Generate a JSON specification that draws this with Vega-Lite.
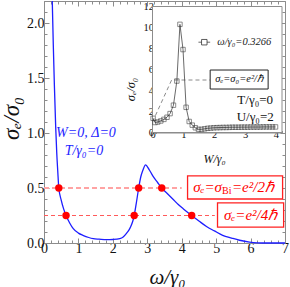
{
  "$schema": "https://vega.github.io/schema/vega-lite/v6.json",
  "width": 241,
  "height": 242,
  "autosize": "none",
  "padding": {"left": 44, "top": 1, "right": 5, "bottom": 44},
  "config": {
    "view": {"stroke": "#8c8c8c", "strokeWidth": 1},
    "font": "Liberation Serif",
    "axis": {
      "domainColor": "#8c8c8c",
      "tickColor": "#8c8c8c",
      "labelColor": "#111",
      "labelFont": "Liberation Serif",
      "titleFont": "Liberation Serif",
      "titleFontWeight": "normal",
      "titleColor": "#111",
      "grid": false,
      "labelOverlap": false,
      "labelFlush": false
    }
  },
  "datasets": {
    "curve": [
      {"x": 0.24, "y": 2.2}, {"x": 0.27, "y": 1.8}, {"x": 0.3, "y": 1.45}, {"x": 0.34, "y": 1.05},
      {"x": 0.37, "y": 0.82}, {"x": 0.4, "y": 0.65}, {"x": 0.43, "y": 0.5}, {"x": 0.5, "y": 0.39},
      {"x": 0.57, "y": 0.31}, {"x": 0.64, "y": 0.25}, {"x": 0.75, "y": 0.18}, {"x": 0.85, "y": 0.13},
      {"x": 1.0, "y": 0.09}, {"x": 1.13, "y": 0.07}, {"x": 1.3, "y": 0.05}, {"x": 1.43, "y": 0.04},
      {"x": 1.6, "y": 0.035}, {"x": 1.82, "y": 0.03}, {"x": 2.0, "y": 0.032}, {"x": 2.2, "y": 0.04},
      {"x": 2.3, "y": 0.055}, {"x": 2.4, "y": 0.09}, {"x": 2.47, "y": 0.12}, {"x": 2.52, "y": 0.15},
      {"x": 2.58, "y": 0.2}, {"x": 2.62, "y": 0.25}, {"x": 2.68, "y": 0.36}, {"x": 2.75, "y": 0.5},
      {"x": 2.81, "y": 0.6}, {"x": 2.87, "y": 0.66}, {"x": 2.95, "y": 0.71}, {"x": 3.05, "y": 0.67},
      {"x": 3.16, "y": 0.61}, {"x": 3.3, "y": 0.55}, {"x": 3.42, "y": 0.5}, {"x": 3.58, "y": 0.45},
      {"x": 3.74, "y": 0.4}, {"x": 3.9, "y": 0.35}, {"x": 4.05, "y": 0.31}, {"x": 4.29, "y": 0.25},
      {"x": 4.5, "y": 0.2}, {"x": 4.72, "y": 0.15}, {"x": 4.95, "y": 0.11}, {"x": 5.19, "y": 0.07},
      {"x": 5.45, "y": 0.045}, {"x": 5.68, "y": 0.025}, {"x": 5.97, "y": 0.008}, {"x": 6.2, "y": 0.002},
      {"x": 6.5, "y": 0}, {"x": 7, "y": 0}
    ],
    "halfLine": [{"x": 0, "x2": 4.0, "y": 0.5}],
    "quarterLine": [{"x": 0, "x2": 4.96, "y": 0.25}],
    "dots": [
      {"x": 0.43, "y": 0.5}, {"x": 0.64, "y": 0.25}, {"x": 2.62, "y": 0.25},
      {"x": 2.75, "y": 0.5}, {"x": 3.42, "y": 0.5}, {"x": 4.29, "y": 0.25}
    ],
    "blueText": [
      {"x": 0.35, "y": 1.0, "label": "W=0, Δ=0"},
      {"x": 0.6, "y": 0.84, "label": "T/γ₀=0"}
    ],
    "redBoxes": [
      {"x": 4.17, "x2": 6.93, "y": 0.4, "y2": 0.61},
      {"x": 5.04, "x2": 6.96, "y": 0.145, "y2": 0.364}
    ],
    "redA1": [{"x": 5.17, "y": 0.505, "label": "σₑ=σ"}],
    "redA2": [{"x": 5.17, "y": 0.505, "label": "Bi"}],
    "redA3": [{"x": 5.17, "y": 0.505, "label": "=e²/2ℏ"}],
    "redB": [{"x": 6.0, "y": 0.255, "label": "σₑ=e²/4ℏ"}],
    "insetFrame": [{"x": 0, "x2": 4.2, "y": 0, "y2": 12}],
    "insetDash": [{"x": 0, "y": 1.0}, {"x": 0.62, "y": 5.0}, {"x": 1.87, "y": 5.0}],
    "insetSq": [
      {"x": 0.02, "y": 1.35}, {"x": 0.08, "y": 0.95}, {"x": 0.17, "y": 1.0}, {"x": 0.27, "y": 1.1},
      {"x": 0.37, "y": 1.25}, {"x": 0.47, "y": 1.45}, {"x": 0.57, "y": 1.8}, {"x": 0.68, "y": 2.6},
      {"x": 0.79, "y": 4.9}, {"x": 0.89, "y": 10.3}, {"x": 0.99, "y": 7.9}, {"x": 1.09, "y": 2.4},
      {"x": 1.19, "y": 1.05}, {"x": 1.29, "y": 0.7}, {"x": 1.39, "y": 0.45}, {"x": 1.49, "y": 0.3},
      {"x": 1.59, "y": 0.3}, {"x": 1.69, "y": 0.35}, {"x": 1.79, "y": 0.4}, {"x": 1.89, "y": 0.42},
      {"x": 1.99, "y": 0.45}, {"x": 2.09, "y": 0.46}, {"x": 2.19, "y": 0.47}, {"x": 2.29, "y": 0.48},
      {"x": 2.39, "y": 0.48}, {"x": 2.49, "y": 0.49}, {"x": 2.59, "y": 0.5}, {"x": 2.69, "y": 0.5},
      {"x": 2.79, "y": 0.5}, {"x": 2.89, "y": 0.51}, {"x": 2.99, "y": 0.51}, {"x": 3.09, "y": 0.51},
      {"x": 3.19, "y": 0.52}, {"x": 3.29, "y": 0.52}, {"x": 3.39, "y": 0.52}, {"x": 3.49, "y": 0.52},
      {"x": 3.59, "y": 0.53}, {"x": 3.69, "y": 0.53}, {"x": 3.79, "y": 0.53}, {"x": 3.89, "y": 0.53},
      {"x": 3.99, "y": 0.53}
    ],
    "legLine": [{"x": 1.49, "x2": 1.87, "y": 8.6}],
    "legPoint": [{"x": 1.68, "y": 8.6}],
    "legText": [{"x": 2.1, "y": 8.6, "label": "ω/γ₀=0.3266"}],
    "insetBox": [{"x": 1.87, "x2": 3.75, "y": 4.14, "y2": 5.95}],
    "insetBoxText": [{"x": 2.81, "y": 5.05, "label": "σₑ=σ₀=e²/ℏ"}],
    "insetParams": [
      {"x": 3.33, "y": 3.1, "label": "T/γ₀=0"},
      {"x": 3.33, "y": 1.5, "label": "U/γ₀=2"}
    ],
    "mainCorners": [{"x": 0, "y": 0}, {"x": 7, "y": 2.2}]
  },
  "layer": [
    {
      "encoding": {
        "x": {
          "field": "x", "type": "quantitative",
          "scale": {"domain": [0, 7], "nice": false, "zero": false},
          "axis": {
            "orient": "bottom",
            "values": [0,0.2,0.4,0.6,0.8,1,1.2,1.4,1.6,1.8,2,2.2,2.4,2.6,2.8,3,3.2,3.4,3.6,3.8,4,4.2,4.4,4.6,4.8,5,5.2,5.4,5.6,5.8,6,6.2,6.4,6.6,6.8,7],
            "labelExpr": "round(datum.value*5) % 5 == 0 ? format(datum.value, 'd') : ''",
            "tickSize": {"condition": {"test": "round(datum.value*5) % 5 == 0", "value": -5}, "value": -3},
            "labelFontSize": 14,
            "labelPadding": 3,
            "title": "ω/γ₀",
            "titleFontSize": 21,
            "titleFontStyle": "italic",
            "titleX": 123,
            "titleY": 34,
            "titleBaseline": "middle"
          }
        },
        "y": {
          "field": "y", "type": "quantitative",
          "scale": {"domain": [0, 2.2], "nice": false, "zero": false},
          "axis": {
            "orient": "left",
            "values": [0,0.1,0.2,0.3,0.4,0.5,0.6,0.7,0.8,0.9,1,1.1,1.2,1.3,1.4,1.5,1.6,1.7,1.8,1.9,2,2.1,2.2],
            "labelExpr": "round(datum.value*10) % 5 == 0 ? format(datum.value, '.1f') : ''",
            "tickSize": {"condition": {"test": "round(datum.value*10) % 5 == 0", "value": -5}, "value": -3},
            "labelFontSize": 14,
            "labelPadding": 5,
            "title": "σₑ/σ₀",
            "titleFontSize": 23,
            "titleFontStyle": "italic",
            "titleAngle": -90,
            "titleX": -33,
            "titleY": 117,
            "titleBaseline": "middle",
            "titleAlign": "center"
          }
        }
      },
      "layer": [
        {"data": {"name": "halfLine"}, "mark": {"type": "rule", "stroke": "#ffa3a3", "strokeWidth": 2, "strokeDash": [5, 3]}, "encoding": {"x2": {"field": "x2"}}},
        {"data": {"name": "quarterLine"}, "mark": {"type": "rule", "stroke": "#ff5a5a", "strokeWidth": 1, "strokeDash": [4, 3]}, "encoding": {"x2": {"field": "x2"}}},
        {"data": {"name": "curve"}, "mark": {"type": "line", "color": "#1e1eff", "strokeWidth": 1.3, "interpolate": "monotone"}},
        {"data": {"name": "dots"}, "mark": {"type": "circle", "color": "#ff0000", "size": 55, "opacity": 1}},
        {"data": {"name": "blueText"}, "mark": {"type": "text", "align": "left", "baseline": "middle", "color": "#1e1eff", "fontStyle": "italic", "fontSize": 14}, "encoding": {"text": {"field": "label"}}},
        {"data": {"name": "redBoxes"}, "mark": {"type": "rect", "fill": "white", "stroke": "#ff2020", "strokeWidth": 1.3}, "encoding": {"x2": {"field": "x2"}, "y2": {"field": "y2"}}},
        {"data": {"name": "redA1"}, "mark": {"type": "text", "align": "right", "baseline": "middle", "color": "#ff0000", "fontStyle": "italic", "fontSize": 15}, "encoding": {"text": {"field": "label"}}},
        {"data": {"name": "redA2"}, "mark": {"type": "text", "align": "left", "baseline": "middle", "color": "#ff0000", "fontSize": 10, "dy": 4}, "encoding": {"text": {"field": "label"}}},
        {"data": {"name": "redA3"}, "mark": {"type": "text", "align": "left", "baseline": "middle", "color": "#ff0000", "fontStyle": "italic", "fontSize": 15, "dx": 10}, "encoding": {"text": {"field": "label"}}},
        {"data": {"name": "redB"}, "mark": {"type": "text", "align": "center", "baseline": "middle", "color": "#ff0000", "fontStyle": "italic", "fontSize": 15}, "encoding": {"text": {"field": "label"}}}
      ]
    },
    {
      "data": {"name": "mainCorners"},
      "mark": {"type": "point", "opacity": 0},
      "encoding": {
        "x": {
          "field": "x", "type": "quantitative",
          "scale": {"domain": [0, 7], "nice": false, "zero": false},
          "axis": {
            "orient": "top", "domain": false, "labels": false, "title": null,
            "values": [0,0.2,0.4,0.6,0.8,1,1.2,1.4,1.6,1.8,2,2.2,2.4,2.6,2.8,3,3.2,3.4,3.6,3.8,4,4.2,4.4,4.6,4.8,5,5.2,5.4,5.6,5.8,6,6.2,6.4,6.6,6.8,7],
            "tickSize": {"condition": {"test": "round(datum.value*5) % 5 == 0", "value": -5}, "value": -3}
          }
        },
        "y": {
          "field": "y", "type": "quantitative",
          "scale": {"domain": [0, 2.2], "nice": false, "zero": false},
          "axis": {
            "orient": "right", "domain": false, "labels": false, "title": null,
            "values": [0,0.1,0.2,0.3,0.4,0.5,0.6,0.7,0.8,0.9,1,1.1,1.2,1.3,1.4,1.5,1.6,1.7,1.8,1.9,2,2.1,2.2],
            "tickSize": {"condition": {"test": "round(datum.value*10) % 5 == 0", "value": -5}, "value": -3}
          }
        }
      }
    },
    {
      "encoding": {
        "x": {
          "field": "x", "type": "quantitative",
          "scale": {"domain": [0, 4.2], "range": [108.5, 238], "nice": false, "zero": false},
          "axis": {
            "orient": "bottom",
            "offset": -110.5,
            "values": [0,0.2,0.4,0.6,0.8,1,1.2,1.4,1.6,1.8,2,2.2,2.4,2.6,2.8,3,3.2,3.4,3.6,3.8,4,4.2],
            "labelExpr": "round(datum.value*5) % 5 == 0 ? format(datum.value, 'd') : ''",
            "tickSize": {"condition": {"test": "round(datum.value*5) % 5 == 0", "value": -4}, "value": -2},
            "labelFontSize": 10.5,
            "labelPadding": 1,
            "title": "W/γ₀",
            "titleFontSize": 12,
            "titleFontStyle": "italic",
            "titleX": 170,
            "titleY": 25.5,
            "titleBaseline": "middle"
          }
        },
        "y": {
          "field": "y", "type": "quantitative",
          "scale": {"domain": [0, 12], "range": [131.5, 5.5], "nice": false, "zero": false},
          "axis": {
            "orient": "left",
            "offset": -108.5,
            "values": [0,1,2,3,4,5,6,7,8,9,10,11,12],
            "labelExpr": "datum.value % 2 == 0 ? format(datum.value, 'd') : ''",
            "tickSize": {"condition": {"test": "datum.value % 2 == 0", "value": -4}, "value": -2},
            "labelFontSize": 10.5,
            "labelPadding": 3,
            "title": "σₑ/σ₀",
            "titleFontSize": 12.5,
            "titleFontStyle": "italic",
            "titleAngle": -90,
            "titleX": -22.5,
            "titleY": 88,
            "titleBaseline": "middle",
            "titleAlign": "center"
          }
        }
      },
      "layer": [
        {"data": {"name": "insetFrame"}, "mark": {"type": "rect", "fill": "white", "stroke": "#8c8c8c", "strokeWidth": 1}, "encoding": {"x2": {"field": "x2"}, "y2": {"field": "y2"}}},
        {"data": {"name": "insetDash"}, "mark": {"type": "line", "color": "#8a8a8a", "strokeWidth": 1, "strokeDash": [4, 3]}},
        {"data": {"name": "insetSq"}, "mark": {"type": "line", "color": "#444", "strokeWidth": 0.8}},
        {"data": {"name": "insetSq"}, "mark": {"type": "point", "shape": "square", "filled": false, "size": 20, "color": "#333", "strokeWidth": 0.8}},
        {"data": {"name": "legLine"}, "mark": {"type": "rule", "color": "#444", "strokeWidth": 0.8}, "encoding": {"x2": {"field": "x2"}}},
        {"data": {"name": "legPoint"}, "mark": {"type": "point", "shape": "square", "filled": true, "fill": "white", "size": 30, "stroke": "#333", "strokeWidth": 0.8, "opacity": 1}},
        {"data": {"name": "legText"}, "mark": {"type": "text", "align": "left", "baseline": "middle", "color": "#222", "fontStyle": "italic", "fontSize": 10.5}, "encoding": {"text": {"field": "label"}}},
        {"data": {"name": "insetBox"}, "mark": {"type": "rect", "fill": "white", "stroke": "#222", "strokeWidth": 1}, "encoding": {"x2": {"field": "x2"}, "y2": {"field": "y2"}}},
        {"data": {"name": "insetBoxText"}, "mark": {"type": "text", "align": "center", "baseline": "middle", "color": "#111", "fontStyle": "italic", "fontSize": 10.5}, "encoding": {"text": {"field": "label"}}},
        {"data": {"name": "insetParams"}, "mark": {"type": "text", "align": "center", "baseline": "middle", "color": "#111", "fontSize": 13}, "encoding": {"text": {"field": "label"}}}
      ]
    }
  ],
  "resolve": {
    "scale": {"x": "independent", "y": "independent"},
    "axis": {"x": "independent", "y": "independent"}
  }
}
